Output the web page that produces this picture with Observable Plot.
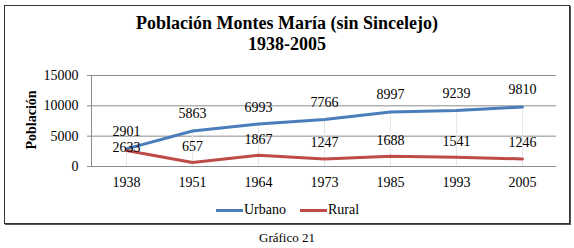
<!DOCTYPE html>
<html>
<head>
<meta charset="utf-8">
<script src="https://cdn.jsdelivr.net/npm/d3@7"></script>
<script src="https://cdn.jsdelivr.net/npm/@observablehq/plot@0.6"></script>
<style>
  html, body { margin: 0; padding: 0; background: #fff; }
  #wrap { position: relative; width: 574px; height: 248px; overflow: hidden; font-family: 'Liberation Serif', 'Times New Roman', serif; }
  #box { position: absolute; left: 4px; top: 5px; width: 564px; height: 217px; border: 1px solid #333; box-shadow: 1px 1px 0 #555; }
  #title { position: absolute; left: 0; width: 574px; top: 13px; text-align: center; font-weight: bold; font-size: 18px; line-height: 21px; color: #000; }
  #ylab { position: absolute; left: 32px; top: 120px; transform: translate(-50%, -50%) rotate(-90deg); font-weight: bold; font-size: 14px; white-space: nowrap; }
  #chart { position: absolute; left: 0; top: 60px; }
  #chart svg text { font-family: 'Liberation Serif', 'Times New Roman', serif; }
  #legend { position: absolute; top: 202px; left: 216px; font-size: 14px; display: flex; align-items: center; white-space: nowrap; }
  .sw { display: inline-block; width: 27px; height: 3px; margin-right: 1px; }
  #caption { position: absolute; top: 230px; left: 0; width: 574px; text-align: center; font-size: 13px; }
</style>
</head>
<body>
<div id="wrap">
  <div id="box"></div>
  <div id="title">Población Montes María (sin Sincelejo)<br>1938-2005</div>
  <div id="ylab">Población</div>
  <div id="chart"></div>
  <div id="legend"></div>
  <div id="caption">Gráfico 21</div>
</div>
<script>
const years = ["1938", "1951", "1964", "1973", "1985", "1993", "2005"];
const urbano = [2901, 5863, 6993, 7766, 8997, 9239, 9810];
const rural = [2633, 657, 1867, 1247, 1688, 1541, 1246];
const seriesNames = ["Urbano", "Rural"];
const seriesColors = ["#4a7ebb", "#be4b48"];
const yTicks = [0, 5000, 10000, 15000];

const rows = [];
years.forEach((y, i) => {
  rows.push({year: y, value: urbano[i], series: "Urbano"});
  rows.push({year: y, value: rural[i], series: "Rural"});
});
const urb = rows.filter(d => d.series === "Urbano");
const rur = rows.filter(d => d.series === "Rural");

const font = "'Liberation Serif', 'Times New Roman', serif";
const fs = 14;
const chart = Plot.plot({
  width: 574,
  height: 140,
  marginTop: 15,
  marginBottom: 34,
  marginLeft: 91,
  marginRight: 18,
  style: {fontFamily: font, fontSize: "14px", color: "#000", background: "transparent", overflow: "visible"},
  x: {type: "point", domain: years, padding: 0.5, label: null},
  y: {domain: [0, 15000], label: null},
  color: {domain: seriesNames, range: seriesColors},
  marks: [
    Plot.ruleY(yTicks, {stroke: "#8c8c8c", strokeWidth: 1}),
    Plot.ruleX(urb, {x: "year", y1: 0, y2: "value", stroke: "#e6e6e6", strokeWidth: 1}),
    Plot.axisY({ticks: yTicks, tickSize: 4, tickPadding: 9, stroke: "#8c8c8c", fontSize: fs, fontFamily: font, fill: "#000", label: null, tickFormat: d => String(d)}),
    Plot.ruleX([0], {x: null, y1: 0, y2: 15000, dx: -(574 - 91 - 18) / 2, stroke: "#8c8c8c"}),
    Plot.axisX({tickSize: 0, tickPadding: 11, fontSize: fs, fontFamily: font, fill: "#000", label: null}),
    Plot.line(rows, {x: "year", y: "value", z: "series", stroke: "series", strokeWidth: 3, curve: "linear"}),
    Plot.text(urb, {x: "year", y: "value", text: d => String(d.value), dy: -17, fontSize: fs, fontFamily: font, fill: "#000"}),
    Plot.text(rur.filter(d => d.year !== "1938"), {x: "year", y: "value", text: d => String(d.value), dy: -16, fontSize: fs, fontFamily: font, fill: "#000"}),
    Plot.text(rur.filter(d => d.year === "1938"), {x: "year", y: "value", text: d => String(d.value), dy: -3, fontSize: fs, fontFamily: font, fill: "#000"})
  ]
});
document.getElementById("chart").appendChild(chart);

const legend = document.getElementById("legend");
seriesNames.forEach((n, i) => {
  const item = document.createElement("span");
  item.style.display = "inline-flex";
  item.style.alignItems = "center";
  item.style.marginRight = i === 0 ? "14px" : "0";
  const sw = document.createElement("span");
  sw.className = "sw";
  sw.style.background = seriesColors[i];
  item.appendChild(sw);
  item.appendChild(document.createTextNode(n));
  legend.appendChild(item);
});
</script>
</body>
</html>
